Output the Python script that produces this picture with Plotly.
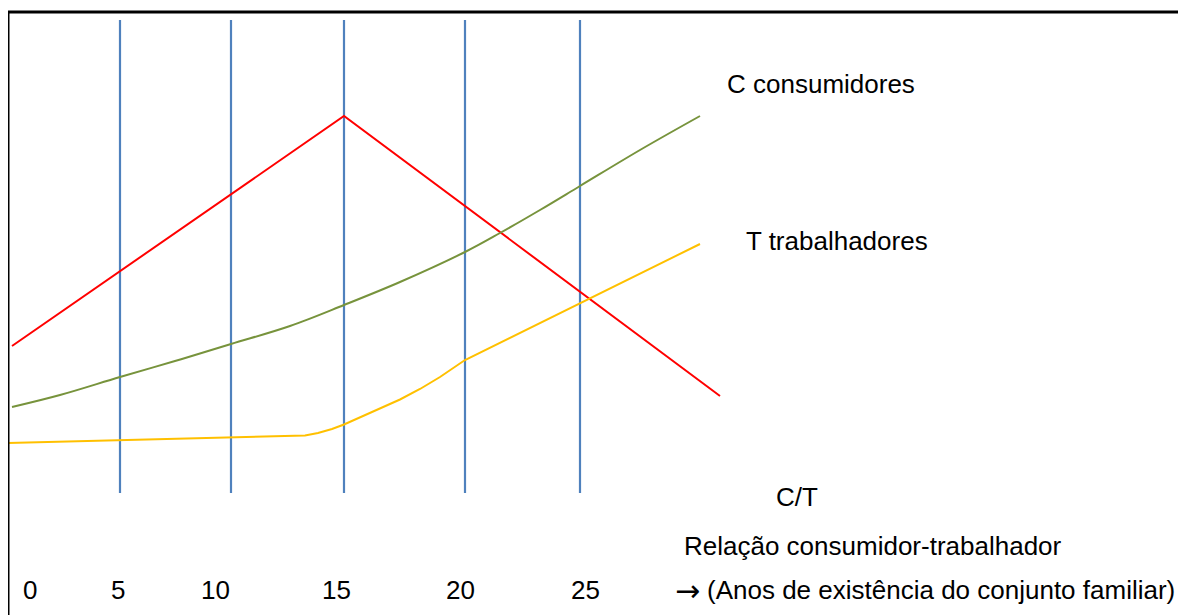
import plotly.graph_objects as go

# Diagram coordinate system (units of the drawing canvas)
year_lines_x = [120, 231, 344, 465, 580]
year_line_top = 20
year_line_bottom = 493

red_x = [12, 344, 720]
red_y = [346, 116, 396]

green_x = [12, 60, 120, 175, 231, 290, 344, 400, 465, 500, 540, 580, 640, 700]
green_y = [407, 395, 377, 361, 344, 326, 305, 282, 252, 233, 210, 186, 150, 116]

yellow_x = [8, 120, 231, 305, 318, 332, 344, 360, 380, 400, 420, 440, 465, 700]
yellow_y = [443, 440, 437, 435.5, 433, 429, 424.5, 417.5, 408.5, 399.5, 389, 377, 360, 244]

tick_labels = ["0", "5", "10", "15", "20", "25"]
tick_x = [30, 118, 215, 336, 460, 585]
tick_y = 590

fig = go.Figure()

for xv in year_lines_x:
    fig.add_trace(go.Scatter(x=[xv, xv], y=[year_line_top, year_line_bottom], mode="lines",
                             line=dict(color="#4F81BD", width=2.2), hoverinfo="skip", showlegend=False))

fig.add_trace(go.Scatter(x=red_x, y=red_y, mode="lines", line=dict(color="#FF0000", width=2),
                         hoverinfo="skip", showlegend=False))
fig.add_trace(go.Scatter(x=green_x, y=green_y, mode="lines", line=dict(color="#77933C", width=2, shape="spline"),
                         hoverinfo="skip", showlegend=False))
fig.add_trace(go.Scatter(x=yellow_x, y=yellow_y, mode="lines", line=dict(color="#FFC000", width=2),
                         hoverinfo="skip", showlegend=False))

font = dict(family="Liberation Sans, Arial, sans-serif", size=26, color="#000000")
arrow_font = dict(family="DejaVu Sans, sans-serif", size=30, color="#000000")

annotations = []
for lab, xv in zip(tick_labels, tick_x):
    annotations.append(dict(x=xv, y=tick_y, text=lab, showarrow=False, xanchor="center", yanchor="middle", font=font))

annotations += [
    dict(x=725, y=84, text="C consumidores", showarrow=False, xanchor="left", yanchor="middle", font=font),
    dict(x=744, y=241, text="T trabalhadores", showarrow=False, xanchor="left", yanchor="middle", font=font),
    dict(x=774, y=497, text="C/T", showarrow=False, xanchor="left", yanchor="middle", font=font),
    dict(x=682, y=546, text="Relação consumidor-trabalhador", showarrow=False, xanchor="left", yanchor="middle", font=font),
    dict(x=687, y=590, text="→", showarrow=False, xanchor="center", yanchor="middle", font=arrow_font),
    dict(x=705, y=590, text="(Anos de existência do conjunto familiar)", showarrow=False, xanchor="left", yanchor="middle", font=font),
]

shapes = [
    dict(type="line", x0=8, x1=1186, y0=12, y1=12, line=dict(color="black", width=3), layer="above"),
    dict(type="line", x0=8, x1=8, y0=12, y1=615, line=dict(color="black", width=3), layer="above"),
]

# The page body has an 8px margin, so the canvas covers screen pixels 8..1186 / 8..615
fig.update_layout(
    width=1178, height=607,
    margin=dict(l=0, r=0, t=0, b=0),
    paper_bgcolor="white", plot_bgcolor="white",
    xaxis=dict(range=[8, 1186], visible=False, fixedrange=True),
    yaxis=dict(range=[615, 8], visible=False, fixedrange=True),
    annotations=annotations, shapes=shapes,
    showlegend=False,
)

fig.write_html("out.html", config={"displayModeBar": False})
